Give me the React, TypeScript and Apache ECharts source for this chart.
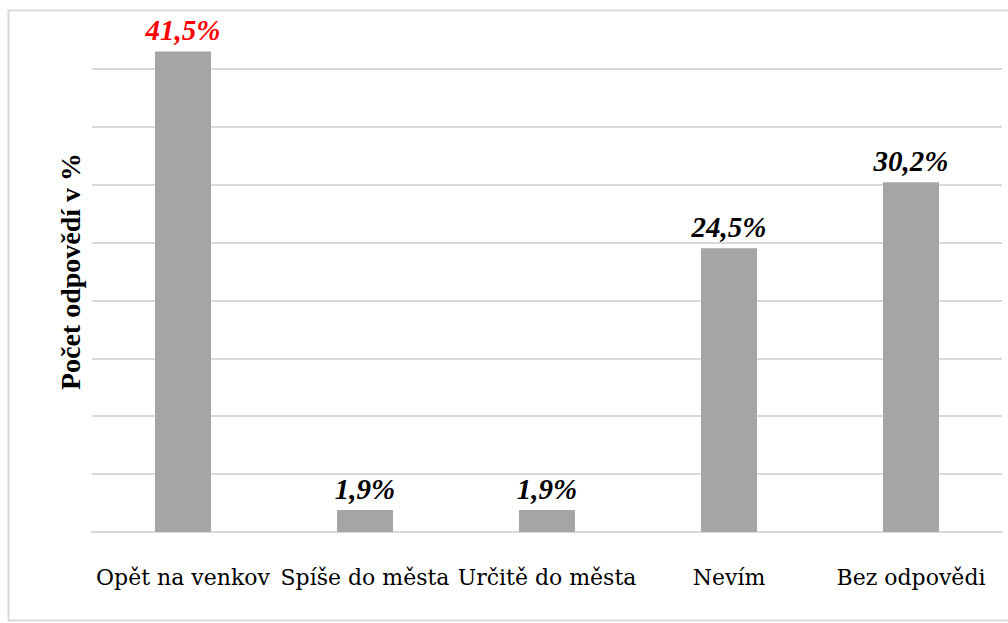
import React, { useEffect, useRef } from "react";
import * as echarts from "echarts";

const categories = ["Opět na venkov", "Spíše do města", "Určitě do města", "Nevím", "Bez odpovědi"];
const values = [41.5, 1.9, 1.9, 24.5, 30.2];
const labelColors = ["#ff0000", "#000000", "#000000", "#000000", "#000000"];
const yTitle = "Počet odpovědí v %";

export default function App() {
  const ref = useRef<HTMLDivElement>(null);
  useEffect(() => {
    const chart = echarts.init(ref.current!, null, { renderer: "svg" });
    chart.setOption({
      animation: false,
      backgroundColor: "#ffffff",
      graphic: [
        {
          type: "rect",
          shape: { x: 8.5, y: 10.5, width: 1010, height: 610 },
          style: { fill: "none", stroke: "#d9d9d9", lineWidth: 2 },
          silent: true,
        },
      ],
      grid: { left: 92, right: 6, top: 11, bottom: 91 },
      xAxis: {
        type: "category",
        data: categories,
        axisLine: { show: true, lineStyle: { color: "#d9d9d9", width: 2 } },
        axisTick: { show: false },
        axisLabel: {
          interval: 0,
          margin: 34,
          color: "#000000",
          fontFamily: "DejaVu Serif",
          fontSize: 22,
        },
      },
      yAxis: {
        type: "value",
        min: 0,
        max: 45,
        interval: 5,
        axisLabel: { show: false },
        axisLine: { show: false },
        axisTick: { show: false },
        splitLine: { show: true, showMaxLine: false, lineStyle: { color: "#d9d9d9", width: 2 } },
        name: yTitle,
        nameLocation: "middle",
        nameGap: 8,
        nameTextStyle: {
          fontFamily: "Liberation Serif",
          fontWeight: "bold",
          fontSize: 28,
          color: "#000000",
        },
      },
      series: [
        {
          type: "bar",
          barWidth: 56,
          data: values.map((v, i) => ({
            value: v,
            label: { color: labelColors[i] },
          })),
          itemStyle: { color: "#a5a5a5" },
          label: {
            show: true,
            position: "top",
            distance: 7,
            formatter: (p: any) => p.value.toFixed(1).replace(".", ",") + "%",
            fontFamily: "Liberation Serif",
            fontStyle: "italic",
            fontWeight: "bold",
            fontSize: 29,
          },
        },
      ],
    });
    return () => chart.dispose();
  }, []);
  return (
    <div
      ref={ref}
      style={{ position: "absolute", left: 0, top: 0, width: 1008, height: 623 }}
    />
  );
}
